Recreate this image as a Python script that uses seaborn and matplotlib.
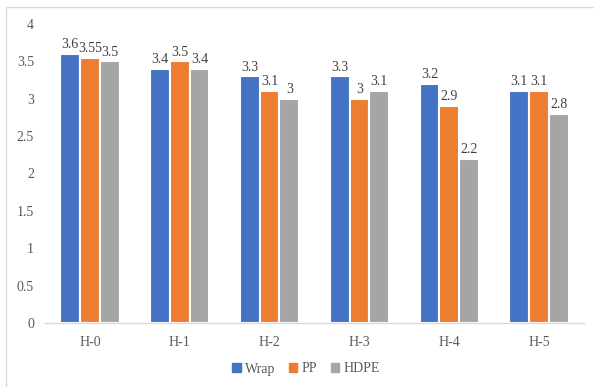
import matplotlib
matplotlib.use("Agg")
import matplotlib.pyplot as plt
from matplotlib.patches import Rectangle
import seaborn as sns
import pandas as pd

groups = ["H-0", "H-1", "H-2", "H-3", "H-4", "H-5"]
wrap = [3.6, 3.4, 3.3, 3.3, 3.2, 3.1]
pp = [3.55, 3.5, 3.1, 3.0, 2.9, 3.1]
hdpe = [3.5, 3.4, 3.0, 3.1, 2.2, 2.8]
series = ["Wrap", "PP", "HDPE"]
colors = ["#4472C4", "#ED7D31", "#A5A5A5"]
yticks = [0, 0.5, 1, 1.5, 2, 2.5, 3, 3.5, 4]
ytick_labels = ["0", "0.5", "1", "1.5", "2", "2.5", "3", "3.5", "4"]

df = pd.DataFrame({
    "group": groups * 3,
    "material": [s for s in series for _ in groups],
    "value": wrap + pp + hdpe,
})

sns.set_theme(style="white")
plt.rcParams["font.family"] = ["Liberation Serif", "DejaVu Serif"]

fig = plt.figure(figsize=(5.94, 3.87), dpi=100)
ax = fig.add_axes([45 / 594, 1 - 323 / 387, (584 - 45) / 594, (323 - 24) / 387])

sns.barplot(data=df, x="group", y="value", hue="material", hue_order=series,
            palette=colors, width=0.66, saturation=1, ax=ax,
            edgecolor="white", linewidth=1.5, legend=False)

for cont in ax.containers:
    labels = [f"{v:g}" for v in cont.datavalues]
    ax.bar_label(cont, labels=labels, padding=2, fontsize=10, color="#404040")

ax.set_ylim(0, 4)
ax.set_yticks(yticks)
ax.set_yticklabels(ytick_labels)
ax.set_xlim(-0.5, len(groups) - 0.5)
ax.set_xlabel("")
ax.set_ylabel("")
ax.tick_params(axis="both", length=0, labelsize=10, colors="#595959")
ax.tick_params(axis="y", pad=8)
ax.tick_params(axis="x", pad=9)
for side in ["top", "right", "left"]:
    ax.spines[side].set_visible(False)
ax.spines["bottom"].set_color("#D9D9D9")
ax.spines["bottom"].set_linewidth(1)

handles = [Rectangle((0, 0), 1, 1, color=c) for c in colors]
fig.legend(handles, series, loc="center", bbox_to_anchor=(306 / 594, 1 - 369 / 387),
           ncol=3, frameon=False, fontsize=10, handlelength=0.6, handleheight=0.6,
           handletextpad=0.3, columnspacing=1.0, labelcolor="#595959")

# outer chart frame
fig.patches.append(Rectangle((6 / 594, -0.05), 1.2, 1 - 7 / 387 + 0.05,
                             transform=fig.transFigure, fill=False,
                             edgecolor="#D9D9D9", linewidth=1))

fig.savefig("out.png", dpi=100)
